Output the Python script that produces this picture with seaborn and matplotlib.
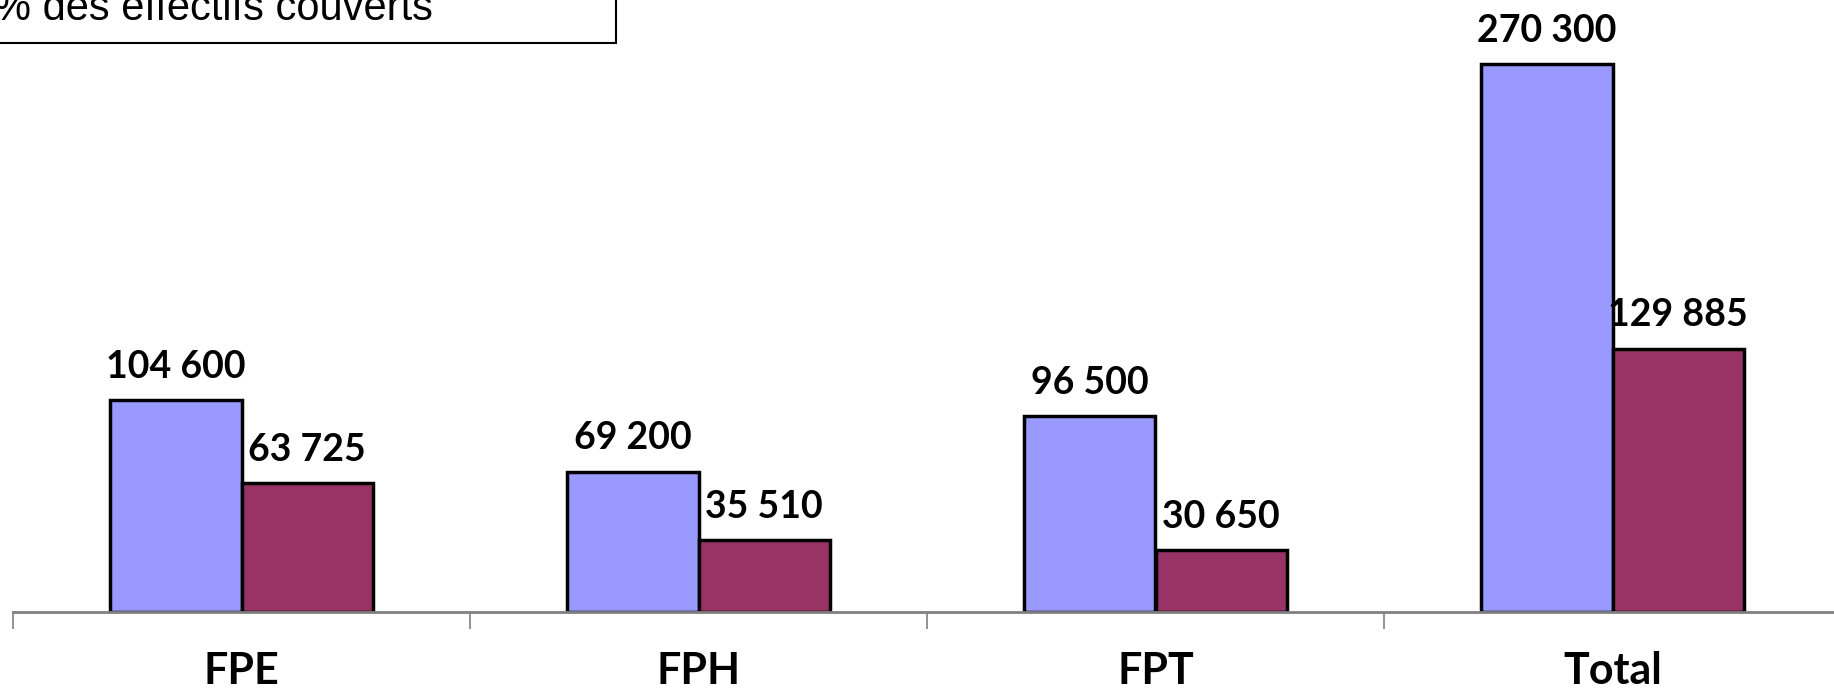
import pandas as pd
import matplotlib.pyplot as plt
import seaborn as sns
from matplotlib.patches import Rectangle
from matplotlib.ticker import FixedLocator

# Données
categories = ["FPE", "FPH", "FPT", "Total"]
effectifs = [104600, 69200, 96500, 270300]
couverts = [63725, 35510, 30650, 129885]
series = ["Effectifs", "Couverts"]
couleurs = ["#9999FF", "#993366"]

df = pd.DataFrame({
    "Versant": categories * 2,
    "Série": [series[0]] * 4 + [series[1]] * 4,
    "Valeur": effectifs + couverts,
})

sns.set_style("white")
plt.rcParams["font.family"] = ["Lato", "DejaVu Sans"]
plt.rcParams["text.color"] = "black"

W, H = 1834, 692
fig = plt.figure(figsize=(W / 100, H / 100), dpi=100)
ax = fig.add_axes([13 / W, 80 / H, 1828 / W, 1 - 80 / H])

sns.barplot(data=df, x="Versant", y="Valeur", hue="Série", palette=couleurs,
            saturation=1, width=0.574, gap=0, edgecolor="black", linewidth=2.5,
            legend=False, ax=ax)

ax.set_xlim(-0.5, 3.5)
ax.set_ylim(0, 270300 * 612 / (612 - 64))

# Étiquettes de valeurs
for cont in ax.containers:
    for bar in cont:
        v = bar.get_height()
        txt = f"{int(v):,}".replace(",", " ")
        ax.annotate(txt, (bar.get_x() + bar.get_width() / 2, v),
                    xytext=(0, 16), textcoords="offset points", color="black",
                    ha="center", va="baseline", fontsize=27, fontweight="bold")

# Axe des catégories
ax.xaxis.set_major_locator(FixedLocator([-0.5, 0.5, 1.5, 2.5]))
ax.xaxis.set_minor_locator(FixedLocator([0, 1, 2, 3]))
ax.set_xticklabels([], minor=False)
ax.set_xticklabels(categories, minor=True, fontsize=31, fontweight="bold", color="black")
ax.tick_params(axis="x", which="major", bottom=True, length=12, width=1.2,
               color="#808080", direction="out")
ax.tick_params(axis="x", which="minor", bottom=True, length=0, pad=28)
ax.set_xlabel("")
ax.set_ylabel("")
ax.set_yticks([])
for s in ["left", "right", "top"]:
    ax.spines[s].set_visible(False)
ax.spines["bottom"].set_color("#808080")
ax.spines["bottom"].set_linewidth(2)

# Encadré en haut à gauche (coupé)
fig.patches.append(Rectangle((-10 / W, 1 - 43 / H), 626 / W, 60 / H,
                             transform=fig.transFigure, facecolor="white",
                             edgecolor="black", linewidth=1.5))
fig.text(-6 / W, 1 - 20 / H, "% des effectifs couverts", family="Liberation Sans",
         fontsize=30, va="baseline", ha="left", color="black")

fig.savefig("out.png", dpi=100)
